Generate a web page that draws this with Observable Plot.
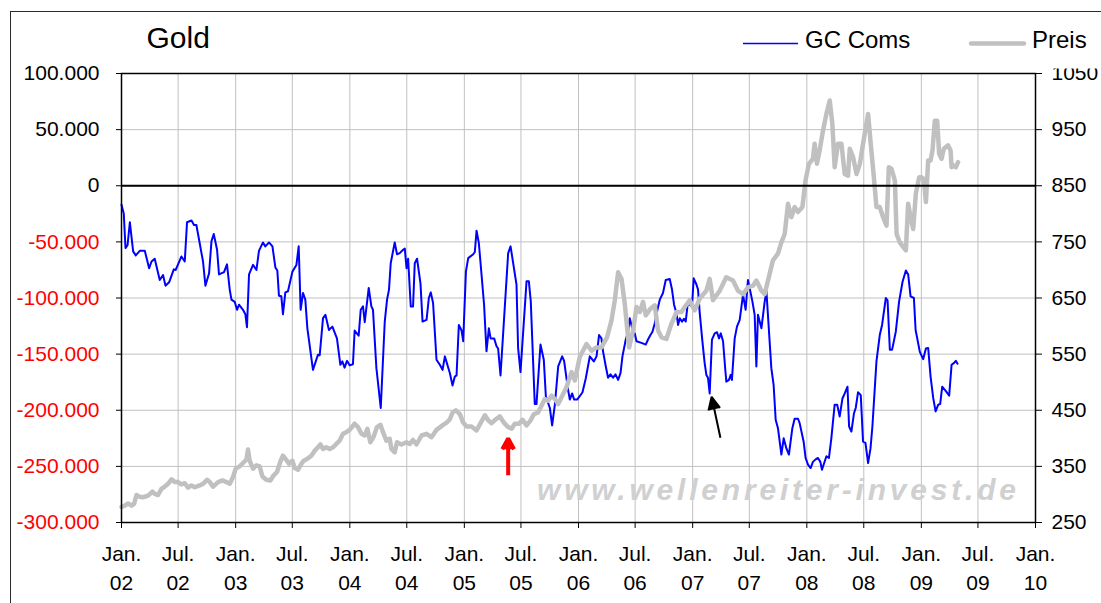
<!DOCTYPE html>
<html><head><meta charset="utf-8">
<script src="https://cdn.jsdelivr.net/npm/d3@7"></script>
<script src="https://cdn.jsdelivr.net/npm/@observablehq/plot@0.6"></script>
<style>
html,body{margin:0;padding:0;background:#fff;overflow:hidden;width:1101px;height:603px}
#wrap{position:relative;width:1101px;height:603px}
#chart,#overlay{position:absolute;left:0;top:0}
#frame{position:absolute;left:10px;top:11px;width:1200px;height:700px;border:1.5px solid #2a2a2a;box-sizing:border-box}
</style></head>
<body><div id="wrap"><div id="chart"></div><div id="frame"></div><svg id="overlay" width="1101" height="603"></svg></div>
<script>
// GC Coms (commercials net position), [decimal year, contracts]
const gcComs = [
[2002.000,-17000],[2002.020,-25000],[2002.035,-55500],[2002.053,-53000],[2002.073,-32500],[2002.102,-58500],[2002.125,-62000],[2002.160,-58000],[2002.204,-58000],[2002.242,-73500],[2002.263,-67500],[2002.291,-65000],[2002.335,-84000],[2002.364,-79500],[2002.385,-89000],[2002.417,-86000],[2002.458,-74500],[2002.475,-75000],[2002.525,-63000],[2002.554,-67500],[2002.574,-32500],[2002.613,-31000],[2002.635,-35000],[2002.656,-35000],[2002.714,-67500],[2002.735,-89000],[2002.767,-78000],[2002.788,-49500],[2002.808,-43000],[2002.837,-57000],[2002.854,-79000],[2002.898,-77000],[2002.924,-70000],[2002.948,-92500],[2002.963,-101500],[2002.992,-103500],
[2003.012,-110500],[2003.029,-106000],[2003.064,-110500],[2003.085,-114500],[2003.099,-126000],[2003.117,-79000],[2003.152,-70500],[2003.182,-75000],[2003.204,-58000],[2003.239,-50500],[2003.260,-54000],[2003.292,-50500],[2003.322,-54000],[2003.348,-73000],[2003.365,-75500],[2003.379,-98000],[2003.400,-98500],[2003.414,-114500],[2003.435,-95000],[2003.458,-94000],[2003.497,-76500],[2003.532,-70500],[2003.552,-54000],[2003.569,-110500],[2003.590,-95500],[2003.610,-101500],[2003.628,-127000],[2003.677,-164000],[2003.721,-150500],[2003.736,-151000],[2003.765,-118000],[2003.786,-115000],[2003.817,-128500],[2003.847,-125500],[2003.887,-136000],[2003.917,-159500],[2003.934,-156500],[2003.954,-162000],[2003.975,-156000],[2003.998,-160000],
[2004.027,-159000],[2004.042,-129000],[2004.077,-133500],[2004.095,-110500],[2004.115,-107500],[2004.130,-121500],[2004.165,-91000],[2004.188,-107500],[2004.202,-110500],[2004.232,-162500],[2004.270,-198000],[2004.305,-121000],[2004.325,-101500],[2004.342,-92500],[2004.357,-69000],[2004.392,-50500],[2004.412,-61000],[2004.436,-60000],[2004.465,-57000],[2004.480,-56000],[2004.495,-73500],[2004.509,-65000],[2004.532,-107500],[2004.552,-107500],[2004.567,-69000],[2004.587,-65000],[2004.617,-87000],[2004.635,-121000],[2004.670,-119500],[2004.690,-100000],[2004.707,-95000],[2004.727,-104500],[2004.757,-155000],[2004.786,-159500],[2004.810,-164000],[2004.830,-152000],[2004.874,-167000],[2004.897,-178000],[2004.917,-170000],[2004.932,-169000],[2004.952,-124000],[2004.976,-129000],[2004.990,-138500],
[2005.014,-76500],[2005.034,-64500],[2005.078,-61000],[2005.092,-59000],[2005.107,-40000],[2005.127,-51000],[2005.151,-79500],[2005.173,-106000],[2005.194,-147500],[2005.215,-127000],[2005.230,-136000],[2005.261,-136000],[2005.282,-143000],[2005.296,-145000],[2005.317,-169000],[2005.384,-60000],[2005.405,-54000],[2005.457,-88000],[2005.471,-144500],[2005.492,-166000],[2005.545,-85000],[2005.565,-85000],[2005.582,-103000],[2005.617,-194500],[2005.632,-194500],[2005.667,-141500],[2005.696,-155000],[2005.714,-187500],[2005.749,-198000],[2005.769,-213500],[2005.793,-195000],[2005.822,-161000],[2005.857,-152000],[2005.874,-156000],[2005.909,-182000],[2005.924,-190500],[2005.944,-185000],[2005.962,-190500],[2005.988,-190500],
[2006.011,-187500],[2006.035,-184000],[2006.064,-171500],[2006.099,-152000],[2006.134,-156500],[2006.158,-152000],[2006.180,-133000],[2006.201,-136000],[2006.215,-147500],[2006.239,-161000],[2006.259,-171000],[2006.280,-168000],[2006.303,-171000],[2006.324,-168000],[2006.347,-173000],[2006.368,-167000],[2006.385,-152000],[2006.414,-137000],[2006.434,-130000],[2006.449,-118000],[2006.478,-130000],[2006.493,-131500],[2006.508,-138500],[2006.551,-140000],[2006.589,-141500],[2006.609,-137000],[2006.630,-133000],[2006.648,-130000],[2006.668,-122500],[2006.688,-112000],[2006.712,-101500],[2006.740,-95500],[2006.764,-84000],[2006.799,-83000],[2006.819,-92500],[2006.837,-106000],[2006.858,-113500],[2006.872,-124000],[2006.887,-118000],[2006.907,-121000],[2006.924,-118500],[2006.939,-121000],[2006.959,-103000],[2006.974,-106000],[2006.994,-107500],
[2007.009,-82500],[2007.033,-88000],[2007.047,-92500],[2007.062,-113500],[2007.085,-138500],[2007.105,-158000],[2007.120,-168500],[2007.134,-171000],[2007.149,-185000],[2007.169,-137000],[2007.193,-131500],[2007.213,-130500],[2007.231,-136000],[2007.246,-131500],[2007.266,-138500],[2007.287,-165500],[2007.295,-174500],[2007.318,-173000],[2007.333,-168500],[2007.344,-173000],[2007.368,-136000],[2007.388,-125500],[2007.412,-119500],[2007.441,-97000],[2007.464,-110500],[2007.484,-84000],[2007.499,-91000],[2007.523,-103000],[2007.543,-115000],[2007.558,-161000],[2007.572,-115000],[2007.602,-127000],[2007.631,-103000],[2007.646,-94000],[2007.689,-162500],[2007.709,-177500],[2007.727,-208500],[2007.747,-216000],[2007.777,-239500],[2007.797,-225000],[2007.821,-234000],[2007.843,-239500],[2007.873,-216000],[2007.893,-207500],[2007.922,-207500],[2007.937,-211500],[2007.972,-228000],[2007.989,-242500],
[2008.010,-248500],[2008.033,-251500],[2008.053,-246000],[2008.074,-244000],[2008.097,-242500],[2008.118,-246000],[2008.132,-253000],[2008.171,-241000],[2008.193,-242500],[2008.214,-225000],[2008.243,-195000],[2008.265,-195000],[2008.287,-205500],[2008.311,-189500],[2008.331,-185000],[2008.355,-179000],[2008.369,-214500],[2008.389,-219000],[2008.412,-202500],[2008.427,-198000],[2008.447,-184000],[2008.471,-186500],[2008.491,-228000],[2008.512,-229000],[2008.535,-247000],[2008.556,-234000],[2008.573,-214000],[2008.608,-156500],[2008.637,-133000],[2008.657,-124000],[2008.690,-100000],[2008.705,-102000],[2008.725,-146000],[2008.745,-146000],[2008.777,-130000],[2008.806,-103000],[2008.836,-85500],[2008.865,-75500],[2008.885,-79000],[2008.906,-98500],[2008.935,-100000],[2008.950,-128500],[2008.987,-148000],
[2009.016,-154500],[2009.040,-145000],[2009.060,-144500],[2009.081,-170000],[2009.104,-189000],[2009.125,-201000],[2009.148,-195000],[2009.165,-194500],[2009.183,-179000],[2009.215,-183000],[2009.244,-187000],[2009.265,-159500],[2009.285,-158000],[2009.302,-156000],[2009.317,-158500]
];

// Gold price (Preis), [decimal year, USD]
const preis = [
[2002.000,278],[2002.029,280],[2002.058,284],[2002.088,280],[2002.110,283],[2002.131,299],[2002.160,296],[2002.189,295],[2002.233,298],[2002.271,305],[2002.291,301],[2002.320,299],[2002.350,310],[2002.379,314],[2002.408,319],[2002.438,327],[2002.467,322],[2002.495,322],[2002.525,318],[2002.554,320],[2002.583,312],[2002.613,316],[2002.642,313],[2002.685,316],[2002.714,319],[2002.749,326],[2002.773,322],[2002.802,314],[2002.846,322],[2002.884,325],[2002.919,322],[2002.948,319],[2002.977,331],
[2003.000,346],[2003.035,350],[2003.064,356],[2003.094,362],[2003.108,380],[2003.123,360],[2003.152,346],[2003.182,352],[2003.210,350],[2003.234,332],[2003.269,326],[2003.304,325],[2003.333,334],[2003.362,340],[2003.394,360],[2003.414,369],[2003.438,363],[2003.467,355],[2003.497,360],[2003.517,347],[2003.546,344],[2003.576,355],[2003.596,360],[2003.625,363],[2003.663,369],[2003.692,378],[2003.721,384],[2003.742,389],[2003.765,381],[2003.794,384],[2003.823,381],[2003.852,384],[2003.882,390],[2003.911,396],[2003.940,408],[2003.969,411],[2003.998,415],
[2004.042,426],[2004.071,420],[2004.101,408],[2004.130,405],[2004.153,417],[2004.179,393],[2004.208,403],[2004.237,420],[2004.267,424],[2004.290,411],[2004.319,396],[2004.348,399],[2004.363,381],[2004.392,375],[2004.412,393],[2004.451,389],[2004.495,393],[2004.523,390],[2004.552,397],[2004.582,389],[2004.626,405],[2004.670,408],[2004.713,402],[2004.757,415],[2004.815,424],[2004.845,428],[2004.874,434],[2004.897,446],[2004.926,450],[2004.961,443],[2004.990,428],
[2005.020,421],[2005.063,421],[2005.107,414],[2005.142,427],[2005.180,441],[2005.209,432],[2005.239,427],[2005.276,434],[2005.311,439],[2005.346,428],[2005.384,420],[2005.414,417],[2005.442,426],[2005.480,426],[2005.510,433],[2005.545,423],[2005.580,432],[2005.609,443],[2005.646,446],[2005.676,458],[2005.705,470],[2005.734,467],[2005.764,476],[2005.793,470],[2005.822,461],[2005.895,491],[2005.939,518],[2005.968,503],
[2006.011,545],[2006.070,568],[2006.114,556],[2006.158,562],[2006.201,562],[2006.250,580],[2006.289,610],[2006.318,646],[2006.347,696],[2006.377,684],[2006.405,640],[2006.443,562],[2006.478,592],[2006.508,634],[2006.537,625],[2006.565,643],[2006.589,619],[2006.630,631],[2006.668,637],[2006.697,592],[2006.727,580],[2006.770,577],[2006.814,604],[2006.858,625],[2006.902,625],[2006.930,634],[2006.974,646],
[2007.017,628],[2007.062,649],[2007.120,663],[2007.149,684],[2007.178,646],[2007.237,663],[2007.294,687],[2007.353,681],[2007.397,663],[2007.441,657],[2007.484,669],[2007.528,672],[2007.558,681],[2007.602,663],[2007.631,657],[2007.674,693],[2007.703,717],[2007.747,729],[2007.777,749],[2007.806,764],[2007.835,818],[2007.864,794],[2007.893,812],[2007.922,803],[2007.961,812],[2007.989,860],
[2008.018,889],[2008.053,898],[2008.068,925],[2008.088,889],[2008.112,913],[2008.141,948],[2008.171,978],[2008.200,1002],[2008.223,960],[2008.243,883],[2008.272,925],[2008.302,925],[2008.331,871],[2008.360,868],[2008.375,916],[2008.404,901],[2008.434,871],[2008.463,889],[2008.491,925],[2008.515,954],[2008.535,978],[2008.558,925],[2008.585,866],[2008.608,812],[2008.637,812],[2008.666,794],[2008.696,779],[2008.716,883],[2008.740,880],[2008.769,859],[2008.784,764],[2008.812,749],[2008.841,741],[2008.865,735],[2008.885,818],[2008.906,794],[2008.929,773],[2008.952,836],[2008.981,865],
[2009.002,865],[2009.022,862],[2009.040,821],[2009.060,895],[2009.081,895],[2009.098,913],[2009.118,966],[2009.139,966],[2009.156,907],[2009.177,898],[2009.197,916],[2009.235,922],[2009.256,913],[2009.265,883],[2009.285,886],[2009.302,883],[2009.322,892]
];

// axes
const xTicks = ["2002-01-01","2002-07-01","2003-01-01","2003-07-01","2004-01-01","2004-07-01","2005-01-01","2005-07-01","2006-01-01","2006-07-01","2007-01-01","2007-07-01","2008-01-01","2008-07-01","2009-01-01","2009-07-01","2010-01-01"];
const monthLabels = {0: "Jan.", 6: "Jul."};
const yTicks = [-300000,-250000,-200000,-150000,-100000,-50000,0,50000,100000];
const priceTicks = [250,350,450,550,650,750,850,950,1050];

// annotations: [decimal year, value] from -> to
const redArrow = [{t1: 2005.384, v1: -258000, t2: 2005.384, v2: -225200}];
const blackArrow = [{t1: 2007.243, v1: -224500, t2: 2007.166, v2: -188000}];

const toDate = t => { const yr = Math.floor(t); const a = Date.UTC(yr,0,1), b = Date.UTC(yr+1,0,1); return new Date(a + (t-yr)*(b-a)); };
// price axis (right) maps onto the commercials axis: 850 <-> 0, 100 USD <-> 50.000
const priceToY = p => (p - 850) * 500;

const fmtDE = d3.formatLocale({decimal: ",", thousands: ".", grouping: [3], currency: ["", ""], minus: "-"}).format(",d");
const gcRows = gcComs.map(([t, v]) => ({date: toDate(t), value: v}));
const preisRows = preis.map(([t, p]) => ({date: toDate(t), value: priceToY(p)}));
const xTickDates = xTicks.map(s => new Date(s + "T00:00:00Z"));
const arrowOpts = () => ({x1: a => toDate(a.t1), y1: "v1", x2: a => toDate(a.t2), y2: "v2"});

const chart = Plot.plot({
  width: 1101, height: 603,
  marginTop: 73, marginBottom: 81, marginLeft: 121, marginRight: 66,
  style: {fontFamily: "'Liberation Sans', Arial, sans-serif", fontSize: "21px", color: "#000", background: "transparent", overflow: "visible"},
  x: {type: "utc", domain: [new Date("2002-01-01T00:00:00Z"), new Date("2010-01-01T00:00:00Z")], label: null},
  y: {domain: [-300000, 100000], label: null},
  marks: [
    Plot.gridX(xTickDates, {stroke: "#c0c0c0", strokeOpacity: 1}),
    Plot.gridY(yTicks, {stroke: "#c0c0c0", strokeOpacity: 1}),
    Plot.line(gcRows, {x: "date", y: "value", stroke: "#0000ff", strokeWidth: 2}),
    Plot.line(preisRows, {x: "date", y: "value", stroke: "#c0c0c0", strokeWidth: 4.5}),
    Plot.ruleY([0], {stroke: "#000", strokeWidth: 2}),
    Plot.frame({stroke: "#000", strokeWidth: 1.5}),
    Plot.axisY(yTicks.filter(v => v < 0), {anchor: "left", tickSize: 5, tickPadding: 17, tickFormat: fmtDE, fill: "#ff0000", label: null}),
    Plot.axisY(yTicks.filter(v => v >= 0), {anchor: "left", tickSize: 5, tickPadding: 17, tickFormat: fmtDE, label: null}),
    Plot.axisY(priceTicks.map(priceToY), {anchor: "right", tickSize: 6, tickPadding: 10, tickFormat: v => String(v / 500 + 850), label: null}),
    Plot.axisX(xTickDates, {anchor: "bottom", tickSize: 6, tickPadding: 18, tickFormat: d => monthLabels[d.getUTCMonth()], label: null}),
    Plot.axisX(xTickDates, {anchor: "bottom", tickSize: 0, tickPadding: 53, tickFormat: d => d3.utcFormat("%y")(d), label: null}),
    Plot.arrow(redArrow, {...arrowOpts(), stroke: "#ff0000", fill: "#ff0000", strokeWidth: 4, headLength: 4.7, headAngle: 57, strokeLinecap: "butt"}),
    Plot.arrow(blackArrow, {...arrowOpts(), stroke: "#000", fill: "#000", strokeWidth: 2, headLength: 10.7, headAngle: 50, strokeLinecap: "butt"})
  ]
});
document.getElementById("chart").appendChild(chart);

// title, legend, watermark
const ov = d3.select("#overlay").style("font-family", "'Liberation Sans', Arial, sans-serif");
ov.append("rect").attr("x", 1040).attr("y", 20).attr("width", 61).attr("height", 48.5).attr("fill", "#fff");
ov.append("text").attr("x", 146.5).attr("y", 48).attr("font-size", 30).text("Gold");
ov.append("line").attr("x1", 743).attr("x2", 798).attr("y1", 43.5).attr("y2", 43.5).attr("stroke", "#0000ff").attr("stroke-width", 1.5);
ov.append("text").attr("x", 805).attr("y", 48).attr("font-size", 24).text("GC Coms");
ov.append("line").attr("x1", 971).attr("x2", 1024).attr("y1", 43.5).attr("y2", 43.5).attr("stroke", "#c0c0c0").attr("stroke-width", 4.5).attr("stroke-linecap", "round");
ov.append("text").attr("x", 1032).attr("y", 48).attr("font-size", 24).text("Preis");
ov.append("text").attr("x", 537).attr("y", 500).attr("font-size", 30).attr("font-style", "italic").attr("font-weight", "bold")
  .attr("letter-spacing", 3.8).attr("fill", "#d0d0d0").text("www.wellenreiter-invest.de");
</script></body></html>
